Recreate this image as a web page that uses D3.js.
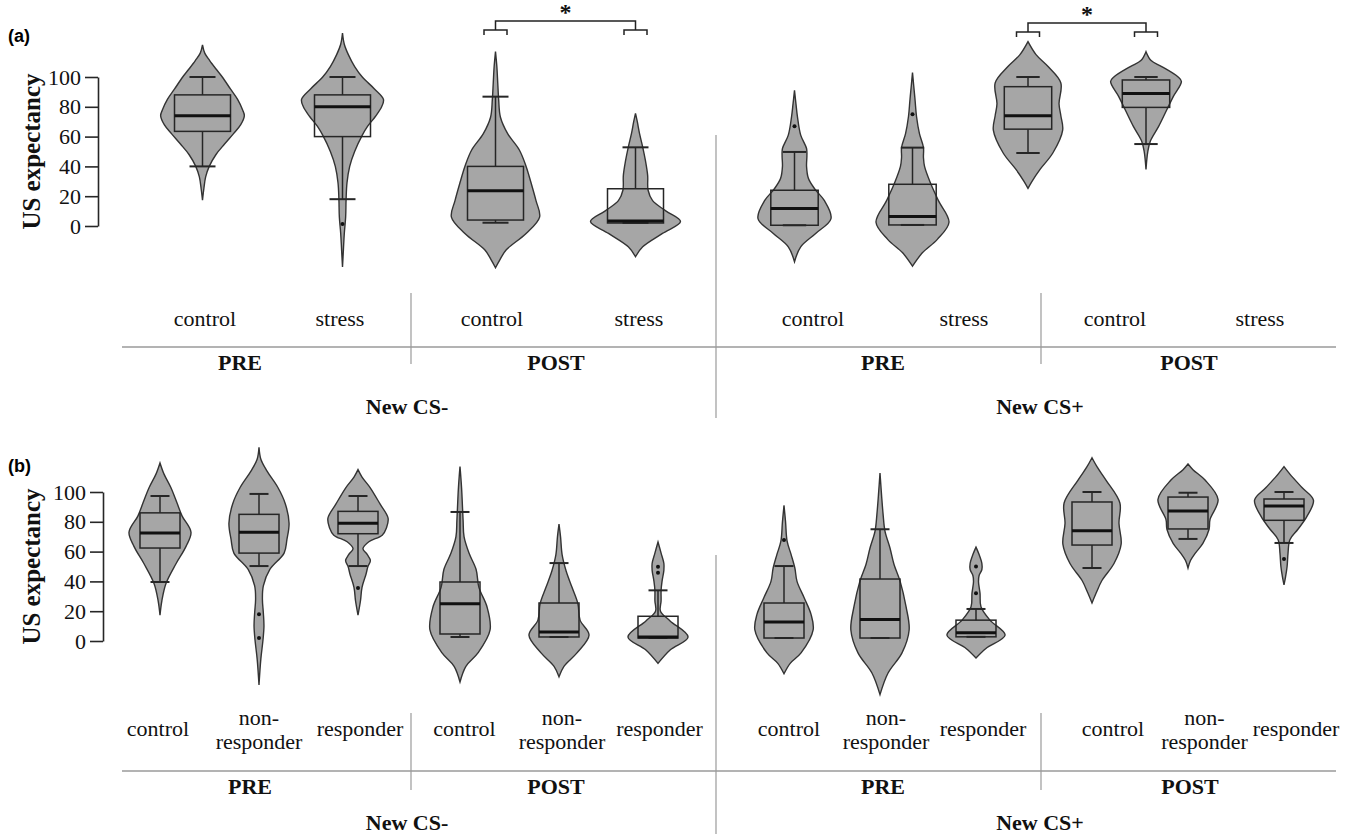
<!DOCTYPE html>
<html>
<head>
<meta charset="utf-8">
<script src="https://cdn.jsdelivr.net/npm/d3@7"></script>
<style>
  html, body { margin: 0; padding: 0; background: #fff; }
  svg { display: block; }
  svg text { font-family: "Liberation Serif", "Times New Roman", Times, serif; }
  svg text.tag { font-family: "Liberation Sans", Arial, sans-serif; }
</style>
</head>
<body>
<svg id="chart" width="1353" height="834"></svg>
<script>
// ---------- data ----------
const stimuli = ["New CS-", "New CS+"];
const phases = ["PRE", "POST"];
const groupsA = ["control", "stress"];
const groupsB = ["control", "non-responder", "responder"];
const yTicks = [0, 20, 40, 60, 80, 100];

// Panel (a): violins ordered stimulus > phase > group
const keysA = [
  ["New CS-", "PRE", "control"], ["New CS-", "PRE", "stress"],
  ["New CS-", "POST", "control"], ["New CS-", "POST", "stress"],
  ["New CS+", "PRE", "control"], ["New CS+", "PRE", "stress"],
  ["New CS+", "POST", "control"], ["New CS+", "POST", "stress"]
];
// density profiles: [US expectancy, relative density]
const densityA = [
  [[121.5,0],[116,0.05],[111,0.16],[105,0.31],[100,0.44],[92,0.62],[85,0.78],[78,0.89],[74,0.93],[68,0.85],[62,0.69],[55,0.49],[48,0.3],[40,0.15],[33,0.07],[25,0.03],[17.4,0]],
  [[129.5,0],[122,0.04],[115,0.13],[107,0.27],[100,0.44],[92,0.71],[85,0.91],[80,0.87],[73.5,0.73],[67,0.56],[61,0.44],[50,0.27],[40,0.16],[29,0.1],[18,0.08],[6,0.07],[-5,0.04],[-16,0.02],[-27.5,0]],
  [[117,0],[107,0.03],[96,0.05],[85,0.07],[73,0.11],[62,0.27],[51,0.53],[40,0.68],[29,0.79],[17,0.9],[6,0.98],[-5,0.68],[-16,0.24],[-23,0.09],[-28,0]],
  [[75.6,0],[70,0.04],[62,0.09],[53,0.16],[44,0.22],[34,0.27],[24,0.28],[17,0.38],[10,0.68],[3,1],[-5,0.6],[-14,0.16],[-20.6,0]],
  [[91,0],[82,0.04],[73.5,0.08],[61,0.17],[52,0.33],[47,0.34],[40,0.33],[32,0.38],[25,0.55],[17,0.82],[5,1],[-5,0.58],[-14,0.17],[-24,0]],
  [[103,0],[95,0.03],[84.6,0.07],[73.5,0.11],[62,0.19],[52.7,0.3],[46,0.3],[40,0.33],[29,0.49],[17,0.71],[2.5,1],[-9,0.68],[-18,0.27],[-27,0]],
  [[123.7,0],[115,0.22],[107,0.55],[96,0.9],[82,0.85],[74,0.9],[64.4,0.95],[49,0.68],[38,0.33],[30,0.11],[25.3,0]],
  [[117,0],[111,0.14],[107,0.43],[100,0.88],[97,0.97],[87,0.75],[78,0.57],[67,0.35],[57,0.12],[50,0.05],[38,0]]
];
// box statistics: [lower whisker, Q1, median, Q3, upper whisker]
const boxA = [
  [40, 63.5, 74, 88, 100], [18, 60, 80, 88, 100],
  [2.2, 4, 23.7, 40, 86.8], [2, 2, 3.4, 25, 52.8],
  [0.5, 0.5, 11.7, 24, 49.7], [0.7, 0.7, 6.3, 28, 52.6],
  [49, 65, 74, 93.5, 100], [55, 79.6, 89, 98, 100]
];
const outliersA = [[], [1.3], [], [], [67], [75], [], []];
// significant control vs stress comparisons
const significanceA = [["New CS-", "POST"], ["New CS+", "POST"]];

// Panel (b)
const keysB = [
  ["New CS-", "PRE", "control"], ["New CS-", "PRE", "non-responder"], ["New CS-", "PRE", "responder"],
  ["New CS-", "POST", "control"], ["New CS-", "POST", "non-responder"], ["New CS-", "POST", "responder"],
  ["New CS+", "PRE", "control"], ["New CS+", "PRE", "non-responder"], ["New CS+", "PRE", "responder"],
  ["New CS+", "POST", "control"], ["New CS+", "POST", "non-responder"], ["New CS+", "POST", "responder"]
];
const densityB = [
  [[119.5,0],[112,0.13],[103,0.35],[92.6,0.55],[84,0.71],[73,1],[63.5,0.84],[52,0.52],[38.5,0.19],[27,0.06],[17.4,0]],
  [[130,0],[122,0.06],[114,0.26],[103,0.61],[92,0.85],[79,0.97],[68,0.9],[59,0.81],[48,0.35],[37,0.14],[28,0.11],[19,0.14],[10,0.16],[1,0.13],[-12,0.06],[-29.5,0]],
  [[115,0],[110,0.13],[103,0.39],[92,0.71],[82.5,0.97],[76,0.92],[71,0.78],[66.6,0.35],[62,0.16],[58,0.3],[54,0.4],[50,0.32],[45,0.26],[36,0.13],[27,0.08],[17.4,0]],
  [[117,0],[103,0.05],[81,0.1],[70,0.13],[59,0.29],[48,0.52],[36,0.61],[23,0.87],[7.4,0.97],[-8,0.58],[-17,0.19],[-27.5,0]],
  [[78.5,0],[70,0.05],[58,0.1],[47,0.23],[36,0.42],[25,0.61],[14,0.68],[4,0.97],[-8,0.58],[-17,0.16],[-24,0]],
  [[66.4,0],[59,0.1],[52,0.19],[47.6,0.19],[40,0.13],[34,0.1],[27,0.1],[20,0.08],[13.5,0.39],[2.7,0.97],[-6,0.39],[-15,0]],
  [[91,0],[80,0.05],[67,0.1],[58,0.23],[49,0.35],[40,0.42],[29,0.65],[18,0.87],[7.4,0.94],[-8,0.55],[-15,0.2],[-22,0]],
  [[112.8,0],[98,0.05],[85,0.1],[73.8,0.16],[62.6,0.32],[51.5,0.45],[40,0.65],[23,0.84],[7.4,0.94],[-8,0.71],[-21.5,0.26],[-36,0]],
  [[63,0],[58,0.1],[52,0.19],[48,0.19],[44,0.1],[40,0.08],[32,0.13],[23,0.16],[14,0.45],[4,0.94],[-5,0.32],[-11.4,0]],
  [[123,0],[117,0.16],[108,0.45],[92.6,0.9],[79,0.87],[65,0.94],[52,0.71],[40.6,0.32],[32,0.13],[25.5,0]],
  [[118.8,0],[115,0.16],[108,0.55],[95,0.97],[81.5,0.71],[75,0.68],[65.5,0.48],[58.8,0.23],[54,0.08],[49,0]],
  [[117,0],[112,0.19],[103,0.58],[94.6,0.95],[83.6,0.74],[75,0.45],[68,0.19],[59,0.13],[50,0.1],[43,0.05],[37.6,0]]
];
const boxB = [
  [39.6, 62.4, 72.5, 86, 97.3], [50.3, 59, 73, 85, 98.7], [50.3, 72, 79, 87, 97.3],
  [2.7, 4.7, 25, 39.6, 86.6], [2.7, 2.7, 6, 25.5, 52.3], [2, 2, 2.7, 16.6, 34],
  [2, 2, 12.8, 25.5, 50.3], [2, 2, 14.5, 41.6, 75], [2.8, 2.8, 5.5, 14, 21.5],
  [49, 64.4, 74, 93.3, 100], [68.5, 75.2, 87.2, 96.6, 99.5], [65.8, 81, 90.6, 95.3, 100]
];
const outliersB = [[], [18, 2], [35.6], [], [], [49.8, 45.8], [67.8], [], [50, 32], [], [], [55]];

// ---------- layout ----------
const tableEdges = [122, 411, 716, 1041, 1336];

const panels = [
  {
    tag: "(a)", tagY: 42,
    keys: keysA, density: densityA, box: boxA, outliers: outliersA, groups: groupsA,
    significance: significanceA,
    yRange: [226, 77], axisX: 98, tickLen: 13,
    halves: {
      "New CS-": { phase: [272.5, 565.5], spread: 70, width: 45, box: 28, cap: 13 },
      "New CS+": { phase: [853.5, 1087], spread: 59, width: 36.5, box: 23.7, cap: 11.7 }
    },
    labelCenters: [272.5, 565.5, 888.5, 1187.5], labelSpread: [67.5, 73.5, 75.5, 72.5],
    labelY: 319, lineY: 347, phaseX: [240, 556, 883, 1189], phaseY: 362,
    stimX: [407, 1040], stimY: 406, sepTop: 293, sepBottom: 364, midTop: 135, midBottom: 418
  },
  {
    tag: "(b)", tagY: 472,
    keys: keysB, density: densityB, box: boxB, outliers: outliersB, groups: groupsB,
    significance: [],
    yRange: [641, 492], axisX: 103, tickLen: 13,
    halves: {
      "New CS-": { phase: [259, 559], spread: 99, width: 31, box: 20, cap: 9.5 },
      "New CS+": { phase: [880, 1188], spread: 96, width: 31, box: 20, cap: 9.5 }
    },
    labelCenters: [259, 562, 886, 1204.5], labelSpread: [101, 97.5, 97, 91.5],
    labelY: 729, lineY: 771, phaseX: [250, 556, 883, 1190], phaseY: 786,
    stimX: [407, 1040], stimY: 822, sepTop: 713, sepBottom: 790, midTop: 555, midBottom: 834
  }
];

const FILL = "#a6a6a6";
const INK = "#262626";
const RULE = "#9a9a9a";

const svg = d3.select("#chart");

panels.forEach(p => {
  const g = svg.append("g");
  const y = d3.scaleLinear().domain([0, 100]).range(p.yRange);

  // x position: phase within stimulus half, then group within phase
  const xScales = {};
  stimuli.forEach(s => {
    const h = p.halves[s];
    xScales[s] = {
      phase: d3.scalePoint().domain(phases).range(h.phase),
      group: d3.scalePoint().domain(p.groups).range([-h.spread, h.spread]),
      width: d3.scaleLinear().domain([0, 1]).range([0, h.width]),
      h
    };
  });
  const xOf = k => xScales[k[0]].phase(k[1]) + xScales[k[0]].group(k[2]);

  // panel tag
  g.append("text").attr("class", "tag").attr("x", 8).attr("y", p.tagY)
    .attr("font-weight", "bold").attr("font-size", 18).text(p.tag);

  // y axis
  const axis = d3.axisLeft(y).tickValues(yTicks).tickSizeOuter(0).tickSizeInner(p.tickLen).tickPadding(4);
  const ax = g.append("g").attr("transform", `translate(${p.axisX},0)`).call(axis);
  ax.attr("font-family", null).attr("font-size", null);
  ax.select(".domain").attr("stroke", INK).attr("stroke-width", 1.6);
  ax.selectAll(".tick line").attr("stroke", INK).attr("stroke-width", 1.6);
  ax.selectAll(".tick text").attr("font-size", 22).attr("fill", "#111");

  const yMid = (p.yRange[0] + p.yRange[1]) / 2;
  g.append("text")
    .attr("transform", `translate(${40},${yMid}) rotate(-90)`)
    .attr("text-anchor", "middle")
    .attr("font-weight", "bold").attr("font-size", 25)
    .attr("fill", "#111")
    .text("US expectancy");

  // violins
  p.keys.forEach((k, i) => {
    const cx = xOf(k);
    const xs = xScales[k[0]];
    const h = xs.h;
    const area = d3.area()
      .y(d => y(d[0]))
      .x0(d => cx - xs.width(d[1]))
      .x1(d => cx + xs.width(d[1]))
      .curve(d3.curveCatmullRom.alpha(0.5));
    g.append("path").attr("d", area(p.density[i]))
      .attr("fill", FILL).attr("stroke", "#333").attr("stroke-width", 1.4);

    const [lo, q1, med, q3, hi] = p.box[i];
    // whiskers
    g.append("line").attr("x1", cx).attr("x2", cx).attr("y1", y(q3)).attr("y2", y(hi))
      .attr("stroke", INK).attr("stroke-width", 1.5);
    g.append("line").attr("x1", cx).attr("x2", cx).attr("y1", y(q1)).attr("y2", y(lo))
      .attr("stroke", INK).attr("stroke-width", 1.5);
    [lo, hi].forEach(v => {
      g.append("line").attr("x1", cx - h.cap).attr("x2", cx + h.cap)
        .attr("y1", y(v)).attr("y2", y(v))
        .attr("stroke", INK).attr("stroke-width", 2);
    });
    // box
    g.append("rect").attr("x", cx - h.box).attr("width", 2 * h.box)
      .attr("y", y(q3)).attr("height", y(q1) - y(q3))
      .attr("fill", "none").attr("stroke", INK).attr("stroke-width", 1.5);
    // median
    g.append("line").attr("x1", cx - h.box).attr("x2", cx + h.box)
      .attr("y1", y(med)).attr("y2", y(med))
      .attr("stroke", "#111").attr("stroke-width", 3);
    // outliers
    p.outliers[i].forEach(v => {
      g.append("circle").attr("cx", cx).attr("cy", y(v)).attr("r", 2)
        .attr("fill", "#111");
    });
  });

  // significance brackets
  p.significance.forEach(([s, ph]) => {
    const xs = xScales[s];
    const xL = xs.phase(ph) + xs.group(p.groups[0]);
    const xR = xs.phase(ph) + xs.group(p.groups[p.groups.length - 1]);
    const top = s === "New CS-" ? 21 : 23;
    const mid = top + 9, foot = mid + 5, half = 11.5;
    const br = g.append("g").attr("fill", "none").attr("stroke", "#222").attr("stroke-width", 1.5);
    br.append("path").attr("d", `M${xL},${mid}V${top}H${xR}V${mid}`);
    [xL, xR].forEach(xc => {
      br.append("path").attr("d", `M${xc - half},${foot}V${mid}H${xc + half}V${foot}`);
    });
    g.append("text").attr("x", (xL + xR) / 2).attr("y", top - 1)
      .attr("text-anchor", "middle")
      .attr("font-weight", "bold").attr("font-size", 24).attr("fill", "#111").text("*");
  });

  // category table
  const t = g.append("g");
  t.append("line").attr("x1", tableEdges[0]).attr("x2", tableEdges[4])
    .attr("y1", p.lineY).attr("y2", p.lineY).attr("stroke", RULE).attr("stroke-width", 1.3);
  [1, 3].forEach(j => {
    t.append("line").attr("x1", tableEdges[j]).attr("x2", tableEdges[j])
      .attr("y1", p.sepTop).attr("y2", p.sepBottom).attr("stroke", RULE).attr("stroke-width", 1.2);
  });
  t.append("line").attr("x1", tableEdges[2]).attr("x2", tableEdges[2])
    .attr("y1", p.midTop).attr("y2", p.midBottom).attr("stroke", RULE).attr("stroke-width", 1.2);

  let cell = 0;
  stimuli.forEach((s, si) => {
    phases.forEach(ph => {
      const c = p.labelCenters[cell], sp = p.labelSpread[cell];
      const lx = d3.scalePoint().domain(p.groups).range([c - sp, c + sp]);
      p.groups.forEach(gr => {
        const cut = gr.indexOf("-");
        const parts = cut >= 0 ? [gr.slice(0, cut + 1), gr.slice(cut + 1)] : [gr];
        const txt = t.append("text").attr("text-anchor", "middle")
          .attr("font-size", 22).attr("fill", "#111");
        parts.forEach((part, pi) => {
          const cy = parts.length === 1 ? p.labelY : p.labelY - 11 + pi * 24;
          txt.append("tspan").attr("x", lx(gr)).attr("y", cy).attr("dy", "0.32em").text(part);
        });
      });
      t.append("text").attr("x", p.phaseX[cell]).attr("y", p.phaseY).attr("dy", "0.35em")
        .attr("text-anchor", "middle")
        .attr("font-weight", "bold").attr("font-size", 22).attr("fill", "#111").text(ph);
      cell++;
    });
    t.append("text").attr("x", p.stimX[si]).attr("y", p.stimY).attr("dy", "0.35em")
      .attr("text-anchor", "middle")
      .attr("font-weight", "bold").attr("font-size", 22).attr("fill", "#111").text(s);
  });
});
</script>
</body>
</html>
